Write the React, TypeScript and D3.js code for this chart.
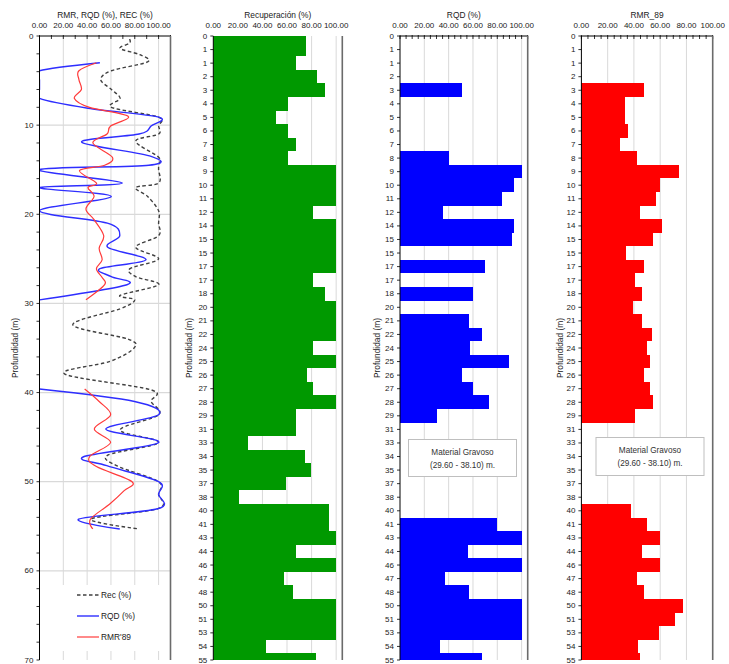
import React from "react";
import * as d3 from "d3";

// ---------- data ----------
const depthLabels = ["0","1","1","2","3","4","5","6","7","8","9","10","11","12","14","15","15","17","17","18","20","21","22","24","25","26","27","28","29","31","33","34","35","37","38","40","41","43","44","46","47","48","50","51","53","54","55"];

const recPct = [75.6,75.6,67.7,84.3,90.8,60.4,51.4,60.4,67.7,60.4,100,100,100,80.8,100,100,100,100,80.8,90.8,100,100,100,80.8,100,76,80.8,100,67.7,67.7,28,74.3,79.4,59.3,21,93.8,93.8,100,67.7,100,57.7,64.7,100,100,100,43.3,83.8];

const rqdPct: (number | null)[] = [null,null,null,null,50.7,0,0,0,0,40.6,100,93.7,83.6,35.4,93.7,91.8,0,69.6,0,60.3,0,57,67.4,57.3,89.4,50.7,60.3,73.4,30.4,null,null,null,null,null,null,0,79.8,100,55.7,100,37,56.5,100,100,100,32.9,67.4];

const rmr89: (number | null)[] = [null,null,null,null,47.8,33.1,33.1,35.2,29.3,42,74.4,59.7,56.7,44.8,61.2,54.7,33.6,47.8,40.7,45.8,39,45.8,53.9,50.1,52.6,47.8,52.6,54.7,40.7,null,null,null,null,null,null,37.9,50.1,59.7,46,59.7,42,47.8,77.7,71.1,59,42.8,44.8];

// line chart series: [depth (m), value]
const recCurve: [number, number][] = [[0.35,75.6],[0.8,75.6],[1.4,67.7],[2.1,84.3],[2.9,90.8],[3.9,60.4],[4.9,51.4],[6.0,60.4],[7.0,67.7],[8.0,60.4],[9.1,100],[10.1,100],[11.0,100],[11.8,80.8],[13.6,100],[14.5,100],[15.0,100],[16.5,100],[17.0,80.8],[18.0,90.8],[19.6,100],[21.0,100],[22.4,100],[23.7,80.8],[25.0,100],[26.1,76],[27.0,80.8],[27.9,100],[29.1,67.7],[29.6,80],[30.6,67.7],[32.4,28],[34.0,74.3],[35.0,79.4],[36.5,59.3],[37.9,21],[39.7,93.8],[41.0,93.8],[42.5,100],[44.2,67.7],[45.6,100],[47.0,57.7],[48.2,64.7],[50.0,100],[51.4,100],[53.0,100],[54.2,43.3],[55.3,83.8]];

const rqdCurveUpper: [number, number][] = [[3.0,50.7],[3.9,0],[4.9,0],[6.0,0],[7.0,0],[8.1,40.6],[9.1,100],[10.1,93.7],[11.0,83.6],[11.9,35.4],[13.5,93.7],[14.5,91.8],[15.0,0],[16.5,69.6],[17.0,0],[18.0,60.3],[19.6,0],[21.0,57],[22.4,67.4],[23.7,57.3],[25.1,89.4],[26.1,50.7],[27.0,60.3],[27.9,73.4],[29.6,0]];
const rqdCurveLower: [number, number][] = [[39.6,0],[41.0,79.8],[42.5,100],[44.1,55.7],[45.6,100],[47.2,37],[48.2,56.5],[50.0,100],[51.4,100],[53.0,100],[54.2,32.9],[55.3,67.4]];

const rmrCurveUpper: [number, number][] = [[3.0,47.8],[3.9,33.1],[4.9,33.1],[6.0,35.2],[7.0,29.3],[8.0,42],[9.0,74.4],[10.1,59.7],[11.0,56.7],[12.0,44.8],[13.6,61.2],[14.5,54.7],[15.1,33.6],[16.5,47.8],[17.0,40.7],[18.0,45.8],[19.4,39],[20.6,45.8],[22.4,53.9],[23.8,50.1],[25.1,52.6],[26.1,47.8],[27.1,52.6],[27.9,54.7],[29.6,39]];
const rmrCurveLower: [number, number][] = [[39.6,37.9],[41.0,50.1],[42.5,59.7],[44.1,46],[45.6,59.7],[47.2,42],[48.3,47.8],[50.0,77.7],[51.0,71.1],[52.5,59],[54.2,42.8],[55.3,44.8]];

const valueTicks = [0, 20, 40, 60, 80, 100];
const depthTicks = [0, 10, 20, 30, 40, 50, 60, 70];
const gravelNote = ["Material Gravoso", "(29.60 - 38.10) m."];

// ---------- layout ----------
const W = 729, H = 664;
const TOP = 36, BOTTOM = 660;
const FONT = "'Liberation Sans', Arial, Helvetica, sans-serif";
const GRID = "#d9d9d9";
const BORDER = "#6b6b6b";
const fmt = d3.format(".2f");

const catY = d3.scalePoint<number>().domain(d3.range(depthLabels.length)).range([TOP, BOTTOM]);
const step = catY.step();

function YTitle({ x }: { x: number }) {
  return (
    <text transform={`translate(${x},348) rotate(-90)`} textAnchor="middle" dominantBaseline="central"
      fontSize={8.4} fill="#222">Profundidad (m)</text>
  );
}

function TopAxis({ x, minorStep, max, drawLine }: { x: d3.ScaleLinear<number, number>; minorStep: number; max: number; drawLine: boolean }) {
  const minor = d3.range(0, max + 0.001, minorStep);
  return (
    <g>
      {valueTicks.map(v => (
        <text key={"l" + v} x={x(v)} y={25} textAnchor="middle" dominantBaseline="central" fontSize={8} fill="#222">{fmt(v)}</text>
      ))}
      {drawLine && <line x1={x(0)} x2={x(max)} y1={TOP} y2={TOP} stroke="#000" strokeWidth={1} />}
      {drawLine && minor.map(v => (
        <line key={"t" + v} x1={x(v)} x2={x(v)} y1={TOP - 1} y2={TOP + 3} stroke="#000" strokeWidth={0.8} />
      ))}
    </g>
  );
}

function BarPanel(props: {
  id: string; x0: number; x1: number; max: number; values: (number | null)[]; color: string;
  title: string; yTitleX: number; topTicks: boolean; note?: { x: number; y: number; w: number; h: number };
}) {
  const { id, x0, x1, max, values, color, title, yTitleX, topTicks, note } = props;
  const x = d3.scaleLinear().domain([0, max]).range([x0, x1]);
  const grid = valueTicks.filter(v => v > 0 && v < max);
  return (
    <g>
      <defs>
        <clipPath id={id}><rect x={x0} y={TOP} width={x1 - x0} height={BOTTOM - TOP} /></clipPath>
      </defs>
      <text x={(x0 + x1) / 2} y={15} textAnchor="middle" dominantBaseline="central" fontSize={8.4} fill="#222">{title}</text>
      {grid.map(v => (
        <line key={v} x1={x(v)} x2={x(v)} y1={TOP} y2={BOTTOM} stroke={GRID} strokeWidth={1} />
      ))}
      <g clipPath={`url(#${id})`} shapeRendering="crispEdges">
        {values.map((v, i) => {
          if (v == null || v <= 0) return null;
          const c = catY(i) as number;
          const t = Math.round(c - step / 2);
          const b = Math.round(c + step / 2);
          return <rect key={i} x={x0} y={t} width={x(v) - x0} height={b - t} fill={color} />;
        })}
      </g>
      <TopAxis x={x} minorStep={5} max={max} drawLine={topTicks} />
      <line x1={x0} x2={x0} y1={TOP} y2={BOTTOM} stroke="#000" strokeWidth={1} />
      {depthLabels.map((l, i) => (
        <g key={i}>
          <line x1={x0 - 3} x2={x0} y1={catY(i)} y2={catY(i)} stroke="#000" strokeWidth={0.8} />
          <text x={x0 - 6} y={catY(i)} textAnchor="end" dominantBaseline="central" fontSize={8} fill="#222">{l}</text>
        </g>
      ))}
      <line x1={x1} x2={x1} y1={TOP} y2={BOTTOM} stroke={BORDER} strokeWidth={1.6} />
      <YTitle x={yTitleX} />
      {note && (
        <g>
          <rect x={note.x} y={note.y} width={note.w} height={note.h} fill="#fff" stroke="#bfbfbf" strokeWidth={1} />
          {gravelNote.map((t, k) => (
            <text key={k} x={note.x + note.w / 2} y={note.y + 13 + k * 12.5} textAnchor="middle" dominantBaseline="central"
              fontSize={8.2} fill="#333">{t}</text>
          ))}
        </g>
      )}
    </g>
  );
}

function LinePanel() {
  const x0 = 39.5, x1 = 170.5;
  const x = d3.scaleLinear().domain([0, 110]).range([x0, x1]);
  const y = d3.scaleLinear().domain([0, 70]).range([TOP, BOTTOM]);
  const line = d3.line<[number, number]>().x(d => x(d[1])).y(d => y(d[0])).curve(d3.curveCardinal.tension(0));
  const minorDepth = d3.range(0, 70.001, 2);
  const legend = [
    { label: "Rec (%)", color: "#404040", dash: "3.5,2.5", w: 1.4 },
    { label: "RQD (%)", color: "#2e2eff", dash: undefined, w: 1.4 },
    { label: "RMR'89", color: "#ff3b3b", dash: undefined, w: 1.2 },
  ];
  return (
    <g>
      <defs>
        <clipPath id="clipLine"><rect x={x0} y={TOP} width={x1 - x0} height={BOTTOM - TOP} /></clipPath>
      </defs>
      <text x={(x0 + x1) / 2} y={15} textAnchor="middle" dominantBaseline="central" fontSize={8.4} fill="#222">RMR, RQD (%), REC (%)</text>
      {valueTicks.filter(v => v > 0).map(v => (
        <line key={"v" + v} x1={x(v)} x2={x(v)} y1={TOP} y2={BOTTOM} stroke={GRID} strokeWidth={1} />
      ))}
      {depthTicks.filter(d => d > 0 && d < 70).map(d => (
        <line key={"h" + d} x1={x0} x2={x1} y1={y(d)} y2={y(d)} stroke={GRID} strokeWidth={1.2} />
      ))}
      <g clipPath="url(#clipLine)" fill="none">
        <path d={line(recCurve) || ""} stroke="#404040" strokeWidth={1.4} strokeDasharray="3.5,2.5" />
        <path d={line(rqdCurveUpper) || ""} stroke="#2e2eff" strokeWidth={1.4} />
        <path d={line(rqdCurveLower) || ""} stroke="#2e2eff" strokeWidth={1.4} />
        <path d={line(rmrCurveUpper) || ""} stroke="#ff3b3b" strokeWidth={1.2} />
        <path d={line(rmrCurveLower) || ""} stroke="#ff3b3b" strokeWidth={1.2} />
      </g>
      <TopAxis x={x} minorStep={10} max={110} drawLine={true} />
      <line x1={x0} x2={x0} y1={TOP} y2={BOTTOM} stroke="#000" strokeWidth={1} />
      {minorDepth.map(d => (
        <line key={"m" + d} x1={x0 - 3} x2={x0} y1={y(d)} y2={y(d)} stroke="#000" strokeWidth={0.8} />
      ))}
      {depthTicks.map(d => (
        <text key={"d" + d} x={x0 - 6} y={y(d)} textAnchor="end" dominantBaseline="central" fontSize={8} fill="#222">{d}</text>
      ))}
      <line x1={x1} x2={x1} y1={TOP} y2={BOTTOM} stroke={BORDER} strokeWidth={1.6} />
      <YTitle x={15} />
      <rect x={44} y={585} width={122} height={66} fill="#fff" />
      {legend.map((l, k) => (
        <g key={k}>
          <line x1={77} x2={99} y1={595 + k * 21} y2={595 + k * 21} stroke={l.color} strokeWidth={l.w} strokeDasharray={l.dash} />
          <text x={101} y={595 + k * 21} dominantBaseline="central" fontSize={8.4} fill="#222">{l.label}</text>
        </g>
      ))}
    </g>
  );
}

export default function App() {
  return (
    <svg width={W} height={H} viewBox={`0 0 ${W} ${H}`} style={{ position: "absolute", left: 0, top: 0, background: "#fff", fontFamily: FONT }}>
      <rect x={0} y={0} width={W} height={H} fill="#fff" />
      <LinePanel />
      <BarPanel id="clipRec" x0={213.3} x1={342.3} max={105} values={recPct} color="#009900"
        title="Recuperación (%)" yTitleX={188.5} topTicks={false} />
      <BarPanel id="clipRqd" x0={400} x1={527.7} max={105} values={rqdPct} color="#0000ff"
        title="RQD (%)" yTitleX={376.5} topTicks={true} note={{ x: 408.5, y: 439.5, w: 108, h: 37 }} />
      <BarPanel id="clipRmr" x0={581.4} x1={712.7} max={100} values={rmr89} color="#ff0000"
        title="RMR_89" yTitleX={560} topTicks={true} note={{ x: 596, y: 437.5, w: 108, h: 38 }} />
    </svg>
  );
}
